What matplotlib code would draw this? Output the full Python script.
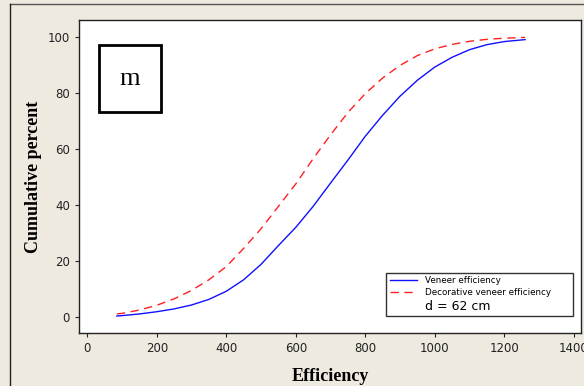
import matplotlib
matplotlib.use("Agg")
import matplotlib.pyplot as plt
from matplotlib.patches import Rectangle
from matplotlib.lines import Line2D

# efficiency values and cumulative percentages
efficiency = [85, 100, 150, 200, 250, 300, 350, 400, 450, 500, 550, 600, 650,
              700, 750, 800, 850, 900, 950, 1000, 1050, 1100, 1150, 1200, 1260]
veneer = [0.35, 0.5, 1.1, 1.9, 2.9, 4.3, 6.3, 9.2, 13.3, 18.8, 25.5, 32, 39.5,
          47.8, 56, 64.5, 72, 78.8, 84.5, 89.2, 92.7, 95.4, 97.2, 98.3, 99]
decorative = [1.1, 1.3, 2.5, 4.2, 6.5, 9.5, 13.3, 18, 24.5, 31.5, 39.5, 47.5, 56.5,
              65, 73, 79.7, 85.3, 89.8, 93.3, 95.7, 97.3, 98.4, 99.1, 99.5, 99.8]
x_ticks = [0, 200, 400, 600, 800, 1000, 1200, 1400]
y_ticks = [0, 20, 40, 60, 80, 100]

bg = "#EEEAE0"
fig = plt.figure(figsize=(5.84, 3.86), dpi=100, facecolor=bg)
ax = fig.add_axes([79/584, 1-333/386, 502/584, 313/386])

ax.plot(efficiency, veneer, color="#1010FF", lw=1, label="Veneer efficiency")
ax.plot(efficiency, decorative, color="#FF2020", lw=1, dashes=(6, 4),
        label="Decorative veneer efficiency")

ax.set_xlim(-24, 1421)
ax.set_ylim(-5.7, 106)
ax.set_xticks(x_ticks)
ax.set_yticks(y_ticks)
ax.tick_params(direction="out", length=3, width=0.8, labelsize=8.5,
               colors="#222222")
for s in ax.spines.values():
    s.set_color("#222222")
    s.set_linewidth(1)

ax.set_xlabel("Efficiency", family="Liberation Serif", fontweight="bold",
              fontsize=13, labelpad=9)
ax.set_ylabel("Cumulative percent", family="Liberation Serif", fontweight="bold",
              fontsize=13, labelpad=4)

# panel label box
ax.add_patch(Rectangle((0.0398, 0.706), 0.1235, 0.214, transform=ax.transAxes,
                       facecolor="white", edgecolor="black", lw=2, zorder=5))
ax.text(0.1015, 0.813, "m", transform=ax.transAxes, ha="center", va="center",
        family="Liberation Serif", fontsize=19, zorder=6)

h1, h2 = ax.get_legend_handles_labels()[0]
blank = Line2D([], [], color="none")
leg = ax.legend([h1, h2, blank],
                ["Veneer efficiency", "Decorative veneer efficiency", "d = 62 cm"],
                loc="lower left", bbox_to_anchor=(0.6116, 0.054, 0.372, 0.144),
                mode="expand", fontsize=6.3, frameon=True, fancybox=False,
                handlelength=3.1, labelspacing=0.3, borderpad=0.4,
                handletextpad=0.9, borderaxespad=0)
leg.get_frame().set_edgecolor("black")
leg.get_frame().set_linewidth(1)
leg.get_texts()[2].set_fontsize(9)

# outer frame lines of the graph window
fig.add_artist(Line2D([10/584, 1], [1-4/386, 1-4/386], color="#555555", lw=1))
fig.add_artist(Line2D([10/584, 10/584], [0, 1-4/386], color="#222222", lw=1))

fig.savefig("out.png", dpi=100, facecolor=bg)
